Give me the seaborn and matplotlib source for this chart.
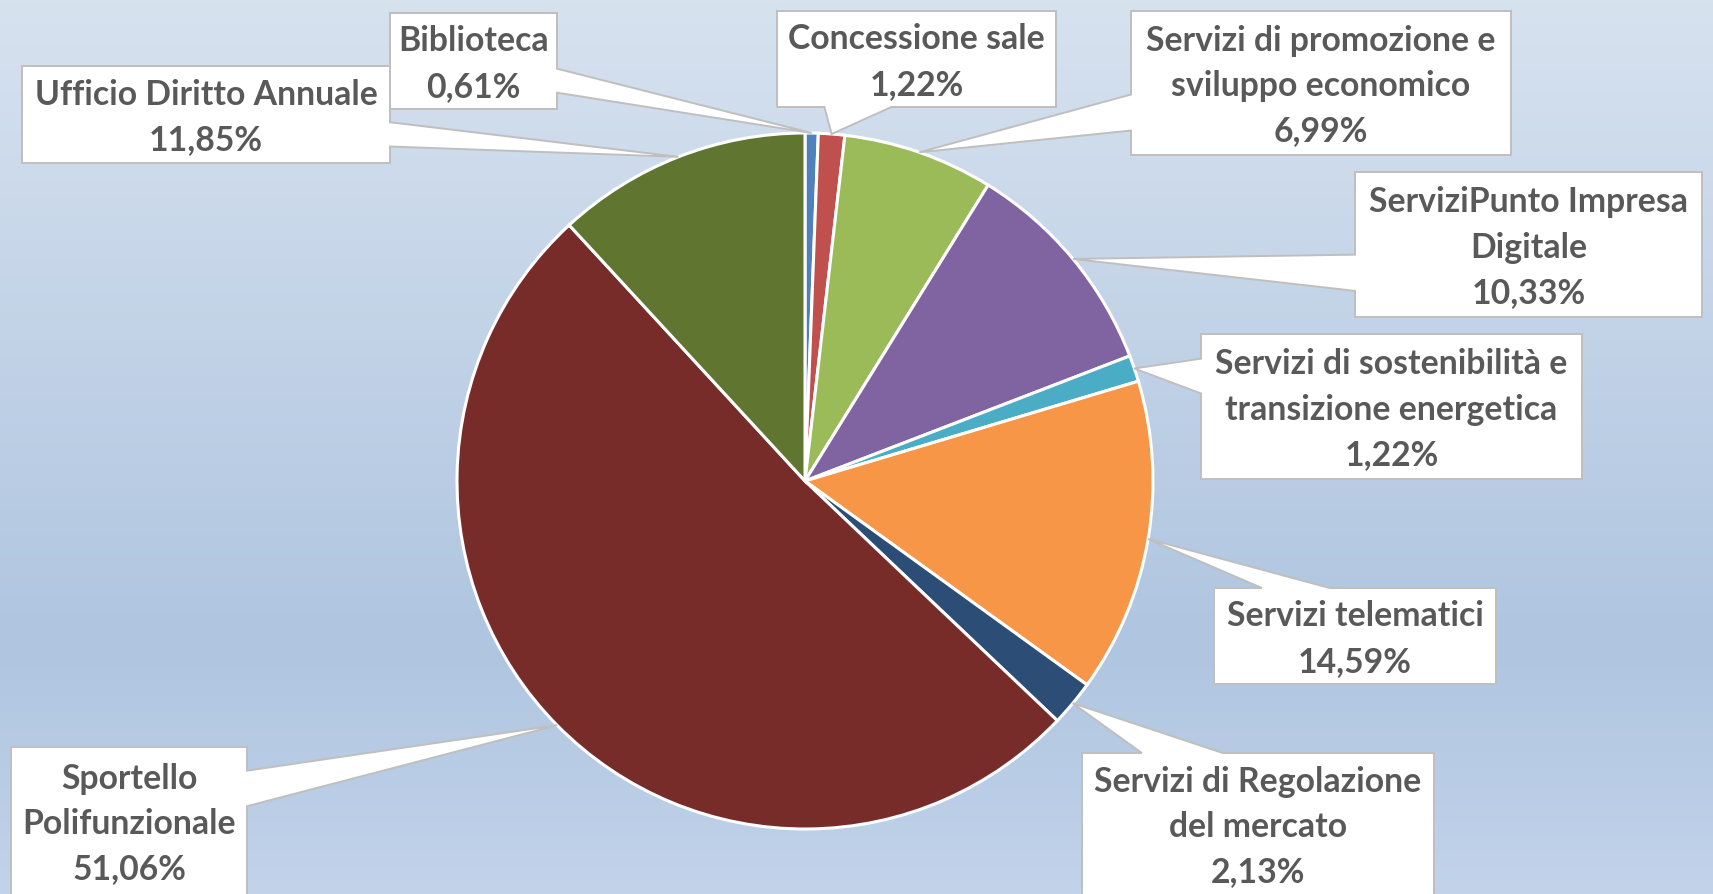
import numpy as np
import matplotlib
matplotlib.use("Agg")
import matplotlib.pyplot as plt
from matplotlib.patches import Polygon
from matplotlib.colors import LinearSegmentedColormap
import seaborn as sns

# ---------------- data ----------------
categories = [
    "Biblioteca",
    "Concessione sale",
    "Servizi di promozione e\nsviluppo economico",
    "ServiziPunto Impresa\nDigitale",
    "Servizi di sostenibilità e\ntransizione energetica",
    "Servizi telematici",
    "Servizi di Regolazione\ndel mercato",
    "Sportello\nPolifunzionale",
    "Ufficio Diritto Annuale",
]
values = [0.61, 1.22, 6.99, 10.33, 1.22, 14.59, 2.13, 51.06, 11.85]
colors = ["#4F81BD", "#C0504D", "#9BBB59", "#8064A2", "#4BACC6",
          "#F79646", "#2C4D75", "#772C2A", "#5F7530"]

# ---------------- layout (pixels, top-down) ----------------
W, H = 1713, 894
CX, CY, R = 805, 481, 348
# box: (x0, y0, x1, y1), tail side, tail base fractions
boxes = [
    ((390, 13, 557, 109), "right", (0.58, 0.83)),
    ((777, 11, 1056, 107), "bottom", (0.17, 0.41)),
    ((1131, 11, 1511, 155), "left", (0.58, 0.83)),
    ((1355, 172, 1702, 317), "left", (0.57, 0.82)),
    ((1201, 334, 1582, 479), "left", (0.17, 0.41)),
    ((1214, 588, 1496, 684), "top", (0.17, 0.41)),
    ((1082, 753, 1434, 905), "top", (0.17, 0.40)),
    ((11, 747, 247, 895), "right", (0.16, 0.40)),
    ((22, 66, 390, 163), "right", (0.58, 0.83)),
]

sns.set_theme(style="white")
plt.rcParams["font.family"] = ["Lato", "DejaVu Sans"]

fig = plt.figure(figsize=(W / 100, H / 100), dpi=100)

# background gradient
bg = fig.add_axes([0, 0, 1, 1], zorder=0)
cmap = LinearSegmentedColormap.from_list(
    "bg", [(0.0, "#D7E2EF"), (0.72, "#AFC5E0"), (1.0, "#C2D3EA")])
grad = np.linspace(0, 1, 256).reshape(-1, 1)
bg.imshow(grad, cmap=cmap, aspect="auto", extent=(0, 1, 0, 1), origin="upper")
bg.set_axis_off()

ax = fig.add_axes([0, 0, 1, 1], zorder=1)
ax.patch.set_alpha(0)
pal = sns.color_palette(colors)
wedges, _ = ax.pie(values, colors=pal, startangle=90, counterclock=False,
                   center=(CX, H - CY), radius=R,
                   wedgeprops=dict(edgecolor="white", linewidth=2.2))
ax.set_xlim(0, W)
ax.set_ylim(0, H)
ax.set_aspect("equal")
ax.set_axis_off()

fs = 24.3
fs_px = fs * 100 / 72
linesp = 46 / (0.902 * fs_px)

for w, cat, val, (box, side, (f1, f2)) in zip(wedges, categories, values, boxes):
    mid = np.deg2rad((w.theta1 + w.theta2) / 2)
    tx = CX + R * np.cos(mid)
    ty = CY - R * np.sin(mid)
    x0, y0, x1, y1 = box
    bw, bh = x1 - x0, y1 - y0
    tip = (tx, ty)
    pts = [(x0, y0)]
    if side == "top":
        pts += [(x0 + f1 * bw, y0), tip, (x0 + f2 * bw, y0)]
    pts += [(x1, y0)]
    if side == "right":
        pts += [(x1, y0 + f1 * bh), tip, (x1, y0 + f2 * bh)]
    pts += [(x1, y1)]
    if side == "bottom":
        pts += [(x0 + f2 * bw, y1), tip, (x0 + f1 * bw, y1)]
    pts += [(x0, y1)]
    if side == "left":
        pts += [(x0, y0 + f2 * bh), tip, (x0, y0 + f1 * bh)]
    pts = [(px, H - py) for px, py in pts]
    ax.add_patch(Polygon(pts, closed=True, facecolor="white",
                         edgecolor="#BFBFBF", linewidth=1.4, zorder=3))
    label = f"{cat}\n{val:.2f}".replace(".", ",") + "%"
    ycen = (y0 + min(y1, 895)) / 2 + 3
    ax.text((x0 + x1) / 2, H - ycen, label, ha="center", va="center",
            fontsize=fs, fontweight="bold", color="#595959",
            linespacing=linesp, zorder=4)

fig.savefig("out.png", dpi=100)
